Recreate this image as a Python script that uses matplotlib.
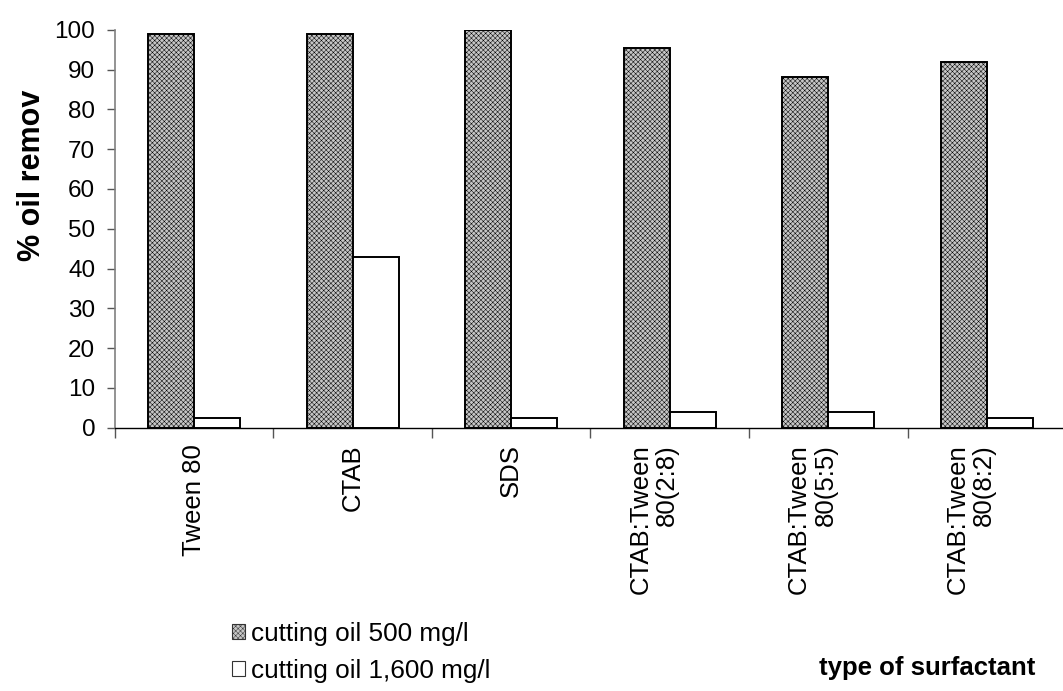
import matplotlib
matplotlib.use("Agg")
import matplotlib.pyplot as plt
import matplotlib.transforms as mtransforms
from matplotlib.patches import Patch
import numpy as np

plt.rcParams['font.family'] = ['Liberation Sans', 'DejaVu Sans']

surfactants = ['Tween 80', 'CTAB', 'SDS',
               'CTAB:Tween\n80(2:8)', 'CTAB:Tween\n80(5:5)', 'CTAB:Tween\n80(8:2)']
removal_500 = [99, 99, 100, 95.5, 88, 92]
removal_1600 = [2.5, 43, 2.5, 4, 4, 2.5]
series_labels = ['cutting oil 500 mg/l', 'cutting oil 1,600 mg/l']

fig = plt.figure(figsize=(10.63, 6.91), dpi=100)
ax = fig.add_axes([0.108, 0.381, 0.892, 0.576])

x = np.arange(len(surfactants))
w = 0.29
gray = '#c6c6c6'

plt.rcParams['hatch.color'] = '#b2b2b2'
plt.rcParams['hatch.linewidth'] = 0.35
ax.bar(x - w / 2, removal_500, w, color=gray, edgecolor='black', linewidth=1.4,
       hatch='xxxxxxx', label=series_labels[0])
ax.bar(x + w / 2, removal_1600, w, color='white', edgecolor='black', linewidth=1.4,
       label=series_labels[1])

ax.set_xlim(-0.5, 5.48)
ax.set_ylim(0, 100)
ax.set_yticks(range(0, 101, 10))

# category labels at centres, tick marks between categories
ax.set_xticks(x)
ax.set_xticklabels(surfactants, rotation=90, fontsize=18.5, ma='right', linespacing=1.15)
ax.tick_params(axis='x', which='major', length=0, pad=12)
ax.set_xticks(np.arange(-0.5, 5.5, 1.0), minor=True)
ax.tick_params(axis='x', which='minor', length=7, width=1, color='#555555', direction='out')
ax.tick_params(axis='y', length=6, width=1, color='#555555', labelsize=17.5, pad=8)

# two-line labels sit a little left of the category centre
shift = mtransforms.ScaledTranslation(-0.16, 0, fig.dpi_scale_trans)
for lbl in ax.get_xticklabels():
    if '\n' in lbl.get_text():
        lbl.set_transform(lbl.get_transform() + shift)

for s in ['top', 'right']:
    ax.spines[s].set_visible(False)
ax.spines['left'].set_color('#808080')
ax.spines['left'].set_linewidth(1.2)
ax.spines['bottom'].set_color('black')
ax.spines['bottom'].set_linewidth(1.0)

fig.text(0.030, 0.747, '% oil remov', rotation=90, fontsize=22, fontweight='bold',
         ha='center', va='center')
fig.text(0.974, 0.033, 'type of surfactant', fontsize=18.5, fontweight='bold',
         ha='right', va='center')

handles = [Patch(facecolor=gray, edgecolor='#333333', hatch='xxxxxxx', linewidth=0.8),
           Patch(facecolor='white', edgecolor='#333333', linewidth=0.8)]
fig.legend(handles, series_labels, loc='upper left', bbox_to_anchor=(0.218, 0.100),
           frameon=False, fontsize=18.8, handlelength=0.5, handleheight=0.5,
           handletextpad=0.22, labelspacing=0.5, borderpad=0, borderaxespad=0)

fig.savefig('out.png', dpi=100)
